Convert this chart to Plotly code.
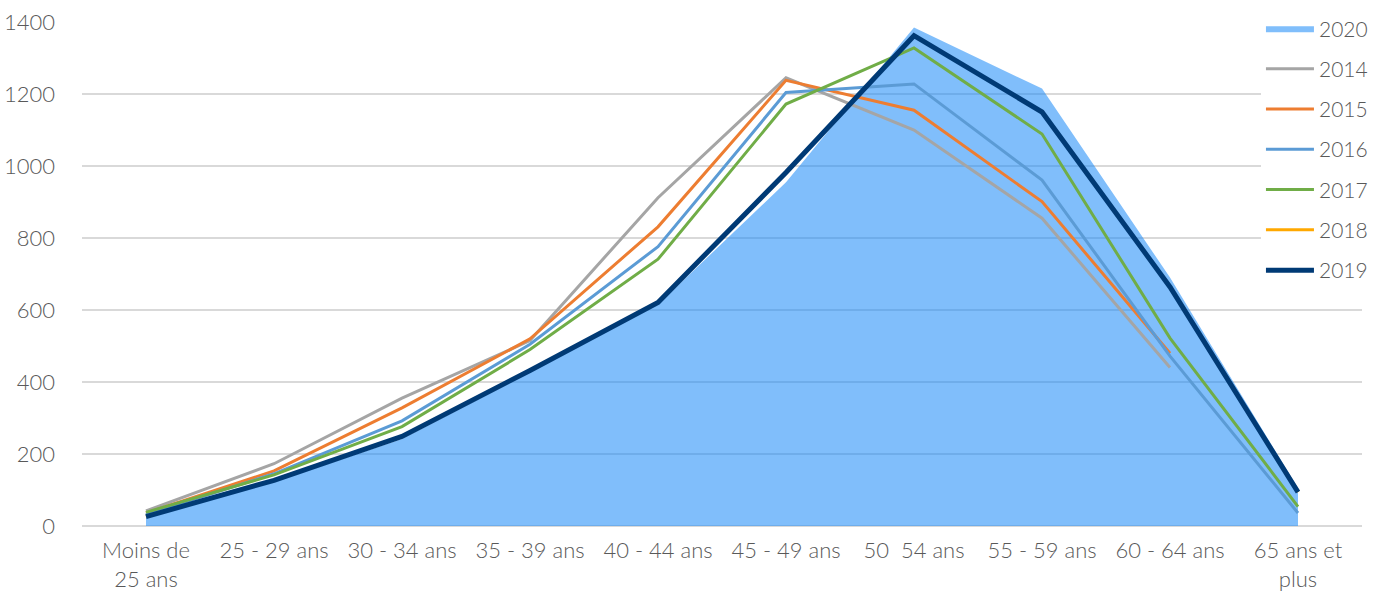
import plotly.graph_objects as go

categories = ["Moins de<br>25 ans", "25 - 29 ans", "30 - 34 ans", "35 - 39 ans", "40 - 44 ans",
              "45 - 49 ans", "50  54 ans", "55 - 59 ans", "60 - 64 ans", "65 ans et<br>plus"]

v2020 = [22, 122, 242, 427, 615, 955, 1385, 1215, 690, 105]
v2014 = [42, 173, 355, 515, 912, 1245, 1100, 855, 440, None]
v2015 = [36, 153, 328, 520, 831, 1238, 1155, 901, 480, None]
v2016 = [32, 145, 292, 505, 776, 1204, 1228, 961, 472, 36]
v2017 = [38, 142, 276, 490, 741, 1172, 1328, 1089, 522, 54]
v2018 = [26, 127, 249, 432, 621, 982, 1362, 1150, 664, 94]
v2019 = [26, 127, 249, 432, 621, 982, 1362, 1150, 664, 94]

yticks = [0, 200, 400, 600, 800, 1000, 1200, 1400]

FONT = "Lato"
TXT = "#595959"
TICKFONT = dict(family=FONT, size=22, color=TXT, weight=300)

fig = go.Figure()
fig.add_trace(go.Scatter(x=categories, y=v2020, name="2020", mode="lines",
                         line=dict(width=0, color="rgba(24,137,248,0.55)"),
                         fill="tozeroy", fillcolor="rgba(24,137,248,0.55)",
                         legendgroup="g0"))

lines = [
    ("2014", v2014, "#a5a5a5", 3),
    ("2015", v2015, "#ed7d31", 3),
    ("2016", v2016, "#5b9bd5", 3),
    ("2017", v2017, "#70ad47", 3),
    ("2018", v2018, "#ffa800", 3),
    ("2019", v2019, "#003a75", 5),
]
for i, (name, vals, col, w) in enumerate(lines):
    fig.add_trace(go.Scatter(x=categories, y=vals, name=name, mode="lines",
                             line=dict(color=col, width=w),
                             connectgaps=False, legendgroup=f"g{i+1}"))

fig.update_layout(
    width=1379, height=594,
    margin=dict(l=82, r=17, t=22, b=68, autoexpand=False),
    paper_bgcolor="white", plot_bgcolor="white",
    font=dict(family=FONT, size=21, color=TXT, weight=300),
    showlegend=True,
    legend=dict(x=0.9144, y=0.9862, xref="container", yref="container",
                xanchor="left", yanchor="top",
                bgcolor="white", font=dict(family=FONT, size=21, color=TXT, weight=300),
                tracegroupgap=10, traceorder="grouped", itemwidth=48),
)
fig.update_xaxes(type="category", range=[-0.5, 9.5], showgrid=False,
                 showline=False, ticks="", tickfont=TICKFONT,
                 tickangle=0, ticklabelstandoff=9)
fig.update_yaxes(range=[0, 1400], tickvals=yticks, showgrid=True,
                 gridcolor="#d9d9d9", gridwidth=1.5, zeroline=True,
                 zerolinecolor="#d9d9d9", zerolinewidth=1.5, showline=False,
                 ticks="", tickfont=TICKFONT, ticklabelstandoff=26)

fig.write_html("out.html", config={"displayModeBar": False},
               post_script="document.body.style.margin='0';")
